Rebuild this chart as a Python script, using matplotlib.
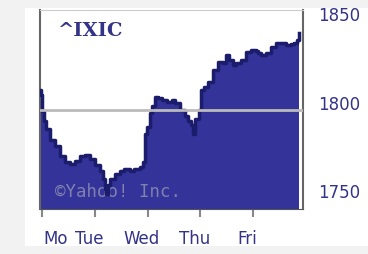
import matplotlib
matplotlib.use("Agg")
import matplotlib.pyplot as plt
import matplotlib.transforms as mtransforms
from matplotlib.patches import Rectangle

# NASDAQ composite, one week (time in trading days from Monday open)
days = [-0.04, -0.02, 0.0, 0.04, 0.08, 0.15, 0.25, 0.34, 0.43, 0.53, 0.62,
        0.72, 0.81, 0.91, 1.0, 1.1, 1.16, 1.19, 1.21, 1.25, 1.29, 1.38,
        1.47, 1.56, 1.66, 1.75, 1.85, 1.91, 1.95, 1.99, 2.05, 2.09, 2.15,
        2.2, 2.28, 2.37, 2.47, 2.52, 2.62, 2.71, 2.77, 2.83, 2.87, 2.91,
        2.97, 3.02, 3.07, 3.15, 3.24, 3.34, 3.43, 3.49, 3.55, 3.62, 3.68,
        3.77, 3.87, 3.96, 4.06, 4.1, 4.15, 4.25, 4.34, 4.44, 4.53, 4.63,
        4.72, 4.78, 4.83, 4.87]
prices = [1811.2, 1808.4, 1798.9, 1793.3, 1788.8, 1783.1, 1779.2, 1773.6,
          1770.2, 1769.1, 1770.8, 1773.6, 1774.2, 1771.9, 1768.5, 1765.2,
          1760.7, 1755.1, 1752.2, 1757.3, 1760.7, 1763.5, 1765.2, 1766.3,
          1765.2, 1766.3, 1767.4, 1770.2, 1786.0, 1789.9, 1798.3, 1801.7,
          1807.3, 1806.7, 1805.6, 1804.5, 1805.6, 1803.9, 1800.0, 1796.1,
          1793.8, 1791.0, 1786.0, 1794.4, 1800.0, 1811.2, 1812.9, 1815.2,
          1822.5, 1827.0, 1826.4, 1830.9, 1828.1, 1825.3, 1826.4, 1828.1,
          1832.6, 1833.7, 1833.1, 1832.0, 1830.9, 1832.0, 1835.4, 1837.6,
          1837.6, 1836.5, 1837.1, 1837.6, 1839.3, 1843.3]
prev_close = 1800
day_ticks = [0, 1, 2, 3, 4]
day_labels = ["Mo", "Tue", "Wed", "Thu", "Fri"]
y_ticks = [1750, 1800, 1850]

navy = "#333399"
text_blue = "#333388"

fig = plt.figure(figsize=(3.68, 2.54), dpi=100)
fig.patch.set_facecolor("#f2f2f2")
fig.patches.append(Rectangle((25 / 368, 8 / 254), 1 - 25 / 368, 238 / 254,
                             transform=fig.transFigure, facecolor="white",
                             edgecolor="none", zorder=-5))

ax = fig.add_axes([40 / 368, 45 / 254, 263 / 368, 199 / 254])
ax.set_zorder(2)
ax.set_xlim(-0.04, 4.95)
ax.set_ylim(1744, 1856)

ax.fill_between(days, prices, 1744, color=navy, step="post", lw=0, zorder=1)
ax.plot(days, prices, color="#1c1c6c", lw=2.5, drawstyle="steps-post", zorder=3)
ax.axhline(prev_close, color="#bbbbbb", lw=2, zorder=4)

ax.text(0.063, 0.892, "^IXIC", transform=ax.transAxes, fontsize=14,
        fontweight="bold", family="DejaVu Serif", color=text_blue, va="center")
ax.text(0.057, 0.085, "\u00a9Yahoo! Inc.", transform=ax.transAxes, fontsize=12.5,
        family="DejaVu Sans Mono", color="#8080b0", va="center", zorder=2)

for side in ["left", "right"]:
    ax.spines[side].set_color("#666666")
    ax.spines[side].set_linewidth(1.5)
ax.spines["top"].set_color("#cccccc")
ax.spines["bottom"].set_color("#555555")

ax.yaxis.tick_right()
ax.set_yticks(y_ticks)
ax.set_yticklabels([str(v) for v in y_ticks])
ax.tick_params(axis="y", length=0, pad=11, labelsize=12, labelcolor=text_blue)
up = mtransforms.ScaledTranslation(0, 7 / 100, fig.dpi_scale_trans)
for lab in ax.get_yticklabels():
    lab.set_transform(lab.get_transform() + up)

ax.set_xticks(day_ticks)
ax.set_xticklabels(day_labels)
ax.tick_params(axis="x", length=6, width=1.5, color="#888888", pad=9,
               labelsize=12, labelcolor=text_blue)
labs = ax.get_xticklabels()
for i, lab in enumerate(labs):
    if i == 0:
        lab.set_ha("left")
        shift = mtransforms.ScaledTranslation(1 / 100, 0, fig.dpi_scale_trans)
    else:
        shift = mtransforms.ScaledTranslation(-6 / 100, 0, fig.dpi_scale_trans)
    lab.set_transform(lab.get_transform() + shift)

fig.savefig("out.png", dpi=100, facecolor=fig.get_facecolor())
